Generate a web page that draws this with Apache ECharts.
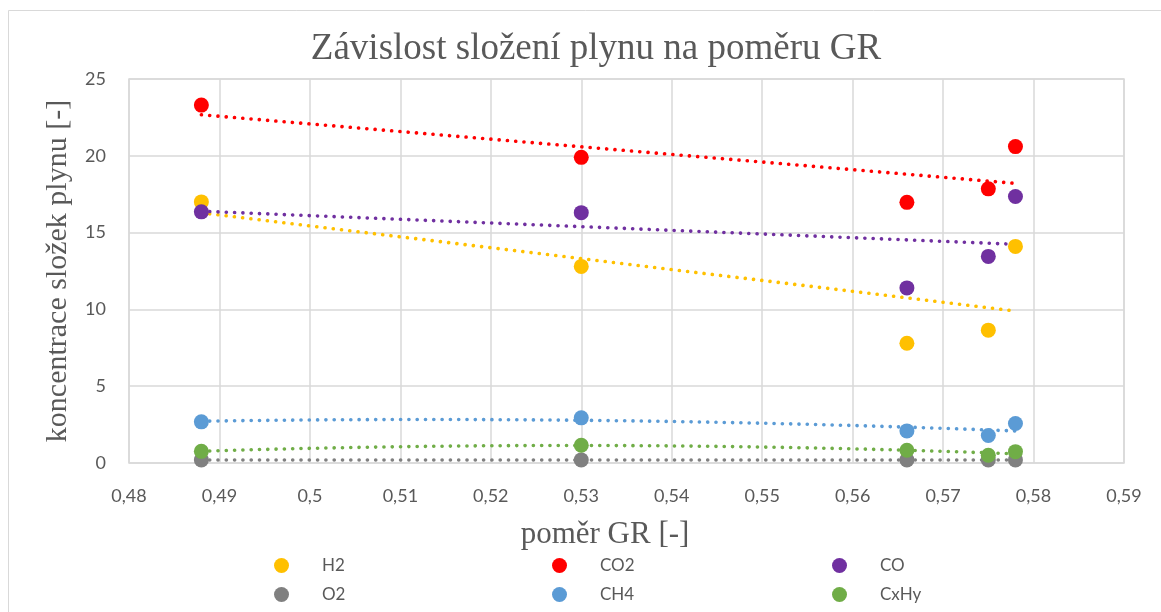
<!DOCTYPE html>
<html>
<head>
<meta charset="utf-8">
<script src="https://cdn.jsdelivr.net/npm/echarts@6/dist/echarts.min.js"></script>
<style>
  html, body { margin: 0; padding: 0; background: #fff; }
  #chart { width: 1161px; height: 612px; }
</style>
</head>
<body>
<div id="chart"></div>
<script>
// Gas composition vs. GR ratio
const grRatio = [0.488, 0.530, 0.566, 0.575, 0.578];
const h2   = [17.0, 12.8, 7.8, 8.65, 14.1];
const co2  = [23.3, 19.9, 16.97, 17.85, 20.6];
const co   = [16.35, 16.3, 11.4, 13.45, 17.35];
const o2   = [0.2, 0.2, 0.2, 0.2, 0.2];
const ch4  = [2.68, 2.94, 2.09, 1.79, 2.57];
const cxhy = [0.76, 1.16, 0.83, 0.5, 0.74];
const xTicks = ['0,48','0,49','0,5','0,51','0,52','0,53','0,54','0,55','0,56','0,57','0,58','0,59'];

const seriesDefs = [
  { name: 'H2',   values: h2,   color: '#FFC000', order: 1 },
  { name: 'CO2',  values: co2,  color: '#FF0000', order: 1 },
  { name: 'CO',   values: co,   color: '#7030A0', order: 1 },
  { name: 'O2',   values: o2,   color: '#808080', order: 1 },
  { name: 'CH4',  values: ch4,  color: '#5B9BD5', order: 2 },
  { name: 'CxHy', values: cxhy, color: '#70AD47', order: 2 }
];

// least-squares polynomial fit (order 1 or 2), solved with Gaussian elimination
function polyFit(xs, ys, order) {
  const m = order + 1;
  const xm = xs.reduce((a, b) => a + b, 0) / xs.length;
  const A = [], B = [];
  for (let r = 0; r < m; r++) {
    A.push(new Array(m).fill(0));
    B.push(0);
  }
  xs.forEach((x, i) => {
    const u = x - xm;
    for (let r = 0; r < m; r++) {
      for (let c = 0; c < m; c++) A[r][c] += Math.pow(u, r + c);
      B[r] += Math.pow(u, r) * ys[i];
    }
  });
  for (let p = 0; p < m; p++) {
    for (let r = p + 1; r < m; r++) {
      const f = A[r][p] / A[p][p];
      for (let c = p; c < m; c++) A[r][c] -= f * A[p][c];
      B[r] -= f * B[p];
    }
  }
  const coef = new Array(m).fill(0);
  for (let r = m - 1; r >= 0; r--) {
    let s = B[r];
    for (let c = r + 1; c < m; c++) s -= A[r][c] * coef[c];
    coef[r] = s / A[r][r];
  }
  return x => coef.reduce((acc, k, i) => acc + k * Math.pow(x - xm, i), 0);
}

function trendPoints(xs, ys, order) {
  const f = polyFit(xs, ys, order);
  const x0 = Math.min(...xs), x1 = Math.max(...xs);
  const pts = [];
  const n = 60;
  for (let i = 0; i <= n; i++) {
    const x = x0 + (x1 - x0) * i / n;
    pts.push([x, f(x)]);
  }
  return pts;
}

const series = [];
seriesDefs.forEach(d => {
  series.push({
    name: d.name + ' trend',
    type: 'line',
    data: trendPoints(grRatio, d.values, d.order),
    showSymbol: false,
    silent: true,
    z: 2,
    lineStyle: { color: d.color, width: 3.6, type: [0.1, 8.2], cap: 'round' }
  });
});
seriesDefs.forEach(d => {
  series.push({
    name: d.name,
    type: 'scatter',
    data: grRatio.map((x, i) => [x, d.values[i]]),
    symbol: 'circle',
    symbolSize: 15,
    z: 3,
    itemStyle: { color: d.color, opacity: 1 }
  });
});

const legendText = { color: '#595959', fontSize: 17, fontFamily: 'Lato, "Open Sans", sans-serif', padding: [0, 0, 0, 28] };
function legendCol(names, left) {
  return {
    orient: 'vertical', left: left, top: 557, height: 55, padding: 0, itemGap: 12,
    icon: 'circle', itemWidth: 15, itemHeight: 15,
    textStyle: legendText, data: names
  };
}

const serifFont = '"Liberation Serif", "DejaVu Serif", serif';

const chart = echarts.init(document.getElementById('chart'));
chart.setOption({
  backgroundColor: '#fff',
  animation: false,
  graphic: [{
    type: 'rect', shape: { x: 8.5, y: 10.5, width: 1300, height: 800 },
    style: { fill: 'none', stroke: '#d9d9d9', lineWidth: 1 }, silent: true, z: -10
  }],
  title: [{
    text: 'Závislost složení plynu na poměru GR',
    left: 591, top: 26, textAlign: 'center',
    textStyle: { fontFamily: serifFont, fontWeight: 'normal', fontSize: 37, color: '#595959' }
  }, {
    text: 'poměr GR [-]',
    left: 600, top: 514, textAlign: 'center',
    textStyle: { fontFamily: serifFont, fontWeight: 'normal', fontSize: 31, color: '#595959' }
  }],
  legend: [
    legendCol(['H2', 'O2'], 274),
    legendCol(['CO2', 'CH4'], 552),
    legendCol(['CO', 'CxHy'], 832)
  ],
  grid: {
    left: 129, top: 79, right: 37, bottom: 149,
    show: true, borderColor: '#d9d9d9', borderWidth: 1.5, containLabel: false
  },
  xAxis: {
    type: 'value', min: 0.48, max: 0.59, interval: 0.01,
    axisLine: { show: false }, axisTick: { show: false },
    axisLabel: {
      margin: 24, color: '#595959', fontSize: 18, fontFamily: 'Lato, "Open Sans", sans-serif',
      formatter: v => xTicks[Math.round((v - 0.48) * 100)]
    },
    splitLine: { show: true, lineStyle: { color: '#d9d9d9', width: 1.5 } }
  },
  yAxis: {
    type: 'value', min: 0, max: 25, interval: 5,
    name: 'koncentrace složek plynu [-]', nameLocation: 'middle', nameGap: 56,
    nameTextStyle: { fontFamily: serifFont, fontSize: 30, color: '#595959' },
    axisLine: { show: false }, axisTick: { show: false },
    axisLabel: { margin: 23, color: '#595959', fontSize: 18, fontFamily: 'Lato, "Open Sans", sans-serif' },
    splitLine: { show: true, lineStyle: { color: '#d9d9d9', width: 1.5 } }
  },
  series: series
});
</script>
</body>
</html>
